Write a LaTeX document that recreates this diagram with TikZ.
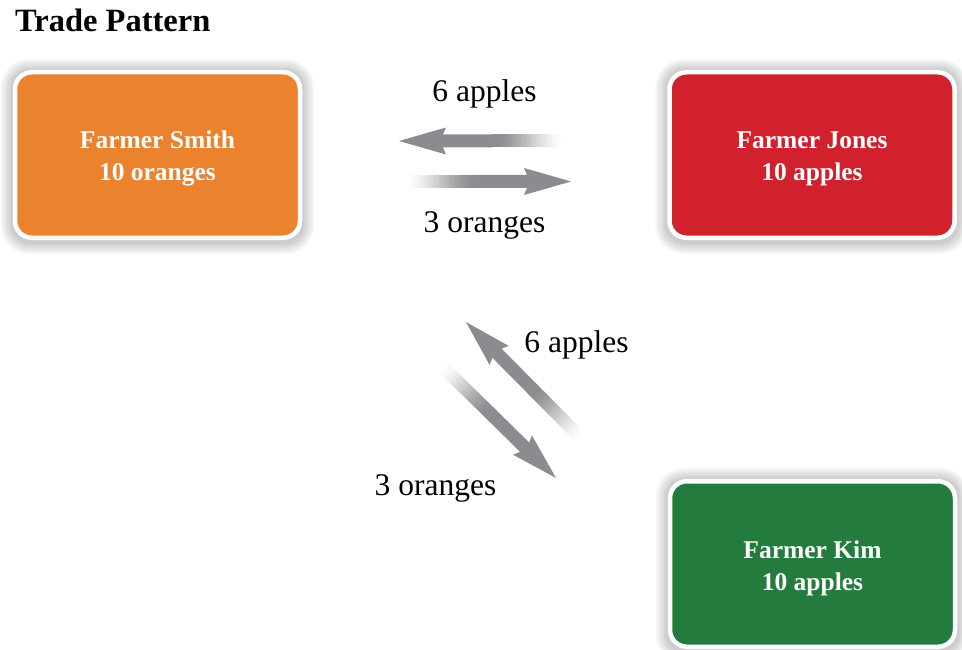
\documentclass[tikz,border=0pt]{standalone}
\usepackage{fontspec}
\setmainfont{Liberation Serif}
\usetikzlibrary{calc,backgrounds}
\definecolor{smithC}{RGB}{234,130,46}
\definecolor{jonesC}{RGB}{209,33,44}
\definecolor{kimC}{RGB}{35,124,61}
\definecolor{arrC}{RGB}{138,140,143}
\tikzset{
  farmer/.style={rounded corners=17pt, draw=white, line width=4.5pt,
    minimum width=285pt, minimum height=165.5pt, inner sep=0pt},
  farmertext/.style={text=white, font=\fontsize{25.5}{32}\selectfont\bfseries,
    align=center, inner sep=0pt},
  qty/.style={font=\fontsize{31.5}{36}\selectfont, anchor=base, inner sep=1pt},
  titletext/.style={font=\fontsize{32.5}{38}\selectfont\bfseries, anchor=base west, inner sep=0pt},
  shadowlayer/.style={fill=black, opacity=0.035},
}
\newcommand\tradearrow[2]{%
  \coordinate (hb) at ($(#2)!44pt!(#1)$);
  \coordinate (hc) at ($(#2)!47pt!(#1)$);
  \coordinate (mid) at ($(#1)!0.6!(hb)$);
  \fill[arrC] ($(mid)!6.5pt!90:(#2)$) -- ($(hb)!6.5pt!90:(#2)$) -- ($(hc)!13.5pt!90:(#2)$)
     -- (#2) -- ($(hc)!13.5pt!-90:(#2)$) -- ($(hb)!6.5pt!-90:(#2)$) -- ($(mid)!6.5pt!-90:(#2)$) -- cycle;
  \foreach \i in {0,...,29}{
    \pgfmathsetmacro\tA{\i/30}
    \pgfmathsetmacro\tB{(\i+1.15)/30}
    \pgfmathsetmacro\sP{(\i+0.5)/30}
    \pgfmathtruncatemacro\cP{(3*\sP*\sP-2*\sP*\sP*\sP)*100}
    \coordinate (sa) at ($(#1)!\tA!(mid)$);
    \coordinate (sb) at ($(#1)!\tB!(mid)$);
    \fill[arrC!\cP!white] ($(sa)!6.5pt!90:(#2)$) -- ($(sb)!6.5pt!90:(#2)$)
      -- ($(sb)!6.5pt!-90:(#2)$) -- ($(sa)!6.5pt!-90:(#2)$) -- cycle;
  }
}
\newcommand\farmershadow[1]{%
  \foreach \e in {2,4,6,8,10,12}{
    \fill[shadowlayer, rounded corners=17pt+\e pt]
      ($(#1.north west)+(-\e,-\e+1)$) rectangle ($(#1.south east)+(\e,\e+2)$);
  }
}
\begin{document}
\begin{tikzpicture}[x=1pt,y=-1pt]
  \useasboundingbox (0,0) rectangle (962,650);
  \node[titletext] (title) at (15,32) {Trade Pattern};

  \node[farmer, fill=smithC] (smith) at (157.5,155) {};
  \node[farmer, fill=jonesC] (jones) at (812,155) {};
  \node[farmer, fill=kimC] (kim) at (812.5,564) {};
  \node[farmertext] (smithtext) at ($(smith.center)+(0,3.5)$) {Farmer Smith\\10 oranges};
  \node[farmertext] (jonestext) at ($(jones.center)+(0,3.5)$) {Farmer Jones\\10 apples};
  \node[farmertext] (kimtext) at ($(kim.center)+(0,4.5)$) {Farmer Kim\\10 apples};

  \begin{scope}[on background layer]
    \farmershadow{smith}
    \farmershadow{jones}
    \farmershadow{kim}
  \end{scope}

  \coordinate (a1t) at (567,141);  \coordinate (a1h) at (399,141);
  \coordinate (a2t) at (403,181.5); \coordinate (a2h) at (571,181.5);
  \coordinate (a3t) at (583,440);  \coordinate (a3h) at (466,322);
  \coordinate (a4t) at (440,364);  \coordinate (a4h) at (556,478);
  \tradearrow{a1t}{a1h}
  \tradearrow{a2t}{a2h}
  \tradearrow{a3t}{a3h}
  \tradearrow{a4t}{a4h}

  \node[qty] (l1) at (484.5,102) {6 apples};
  \node[qty] (l2) at (484.5,233) {3 oranges};
  \node[qty] (l3) at (576.5,352) {6 apples};
  \node[qty] (l4) at (435.5,495) {3 oranges};
\end{tikzpicture}
\end{document}
